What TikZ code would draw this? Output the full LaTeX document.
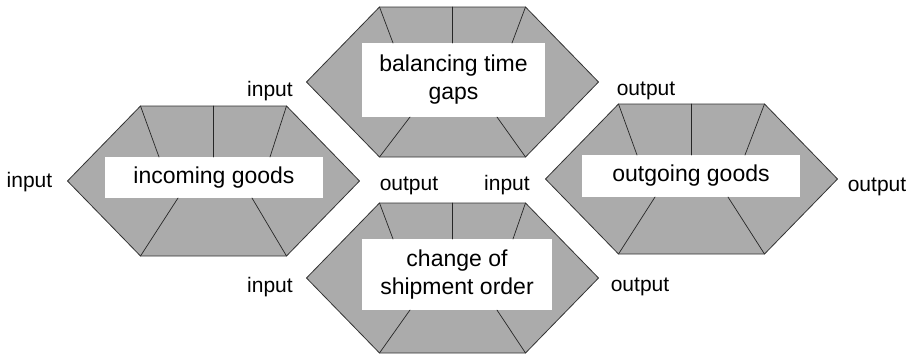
\documentclass[tikz,border=0pt]{standalone}
\usepackage{fontspec}
\setmainfont{Liberation Sans}
\usepackage{xcolor}

\begin{document}
\begin{tikzpicture}[x=1pt,y=-1pt,line cap=round,line join=round,
  hexfill/.style={fill=black!33,draw=black!80,line width=0.8pt},
  divider/.style={draw=black!85,line width=0.7pt},
  labelbox/.style={fill=white,inner sep=0pt,align=center,font=\fontsize{23}{28}\selectfont},
  portlabel/.style={anchor=base,font=\fontsize{21}{25}\selectfont}]
\useasboundingbox (0,0) rectangle (914,354);

% balancing time gaps
\begin{scope}[shift={(452.5,82)}]
\draw[hexfill] (-146,0) -- (-73,-75) -- (73,-75) -- (146,0) -- (73,75) -- (-73,75) -- cycle;
\node[labelbox,minimum width=183,minimum height=74] (gaps) at (1,-2) {balancing time\\gaps};
\draw[divider] (-73,-75) -- (-59.5,-39);
\draw[divider] (0,-75) -- (0,-39);
\draw[divider] (73,-75) -- (59.5,-39);
\draw[divider] (-73,75) -- (-42.5,35);
\draw[divider] (73,75) -- (44.5,35);
\end{scope}

% incoming goods
\begin{scope}[shift={(213.5,181)}]
\draw[hexfill] (-146,0) -- (-73,-75) -- (73,-75) -- (146,0) -- (73,75) -- (-73,75) -- cycle;
\node[labelbox,minimum width=218,minimum height=41] (incoming) at (0.5,-3.5) {incoming goods};
\draw[divider] (-73,-75) -- (-54.5,-24);
\draw[divider] (0,-75) -- (0,-24);
\draw[divider] (73,-75) -- (56.5,-24);
\draw[divider] (-73,75) -- (-35.5,17);
\draw[divider] (73,75) -- (38.5,17);
\end{scope}

% outgoing goods
\begin{scope}[shift={(691.5,179)}]
\draw[hexfill] (-146,0) -- (-73,-75) -- (73,-75) -- (146,0) -- (73,75) -- (-73,75) -- cycle;
\node[labelbox,minimum width=218,minimum height=42] (outgoing) at (-0.5,-3) {outgoing goods};
\draw[divider] (-73,-75) -- (-54.5,-24);
\draw[divider] (0,-75) -- (0,-24);
\draw[divider] (73,-75) -- (53.5,-24);
\draw[divider] (-73,75) -- (-36.5,18);
\draw[divider] (73,75) -- (36.5,18);
\end{scope}

% change of shipment order
\begin{scope}[shift={(452.5,278)}]
\draw[hexfill] (-146,0) -- (-73,-75) -- (73,-75) -- (146,0) -- (73,75) -- (-73,75) -- cycle;
\node[labelbox,minimum width=190,minimum height=71] (shipment) at (4.5,-3.5) {change of\\shipment order};
\draw[divider] (-73,-75) -- (-59.5,-39);
\draw[divider] (0,-75) -- (0,-39);
\draw[divider] (73,-75) -- (60.5,-39);
\draw[divider] (-73,75) -- (-42.5,32);
\draw[divider] (73,75) -- (44.5,32);
\end{scope}

% inputs and outputs
\node[portlabel] (incomingin) at (29.5,187) {input};
\node[portlabel] (gapsin) at (270,96) {input};
\node[portlabel] (gapsout) at (646,95) {output};
\node[portlabel] (incomingout) at (409,190) {output};
\node[portlabel] (outgoingin) at (507,190) {input};
\node[portlabel] (outgoingout) at (877,191) {output};
\node[portlabel] (shipmentin) at (270,292) {input};
\node[portlabel] (shipmentout) at (640,291) {output};
\end{tikzpicture}
\end{document}
